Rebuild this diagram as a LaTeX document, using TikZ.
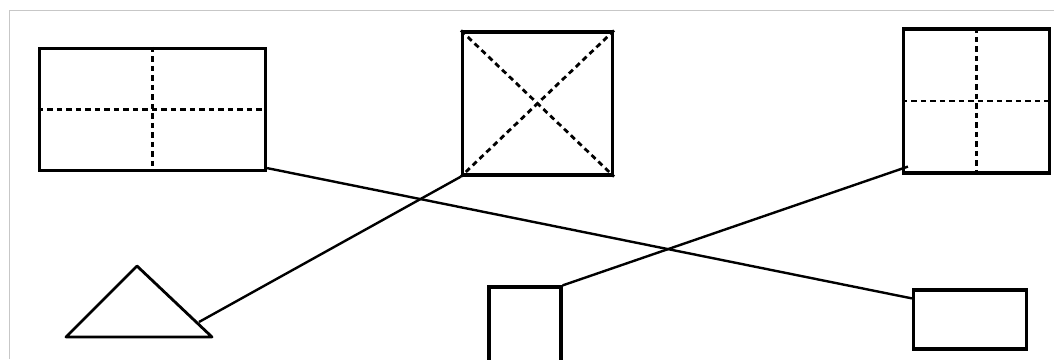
\documentclass[tikz,border=0pt]{standalone}
\usetikzlibrary{calc}
\begin{document}
\begin{tikzpicture}[x=1pt,y=-1pt,
  box/.style={draw=black, line width=3.2pt, inner sep=0pt, minimum width=#1},
  dashln/.style={draw=black, line width=2.8pt, dash pattern=on 5.5pt off 4pt},
  conn/.style={draw=black, line width=2.4pt},
  frame/.style={draw=black!22, line width=1.6pt}]
\useasboundingbox (0,0) rectangle (1054,359);
\draw[frame] (9.5,359) -- (9.5,10.5) -- (1054,10.5);
% top-left rectangle
\node[box=226pt, minimum height=122pt] (r1) at (152.5,109.5) {};
\draw[dashln] (r1.north) -- (r1.south);
\draw[dashln] (r1.west) -- (r1.east);
% top-middle square
\node[box=150pt, minimum height=143pt] (s2) at (537.5,103.5) {};
\draw[dashln] (s2.north west) -- (s2.south east);
\draw[dashln] (s2.north east) -- (s2.south west);
% top-right square
\node[box=146pt, minimum height=144pt] (s3) at (976.5,101) {};
\draw[dashln] (s3.north) -- (s3.south);
\draw[dashln] (s3.west) -- (s3.east);
% triangle
\coordinate (tA) at (137,266);
\coordinate (tL) at (66,337);
\coordinate (tR) at (212,337);
\draw[line width=2.8pt, line join=round] (tL) -- (tA) -- (tR) -- cycle;
\coordinate (tC) at (199,322);
% bottom-middle small square
\node[box=72pt, minimum height=80pt] (s4) at (525,327) {};
% bottom-right rectangle
\node[box=113pt, minimum height=59pt] (r5) at (970,319.5) {};
% connectors
\draw[conn] ($(r1.south east)+(0,-4)$) -- ($(r5.north west)+(0,10)$);
\draw[conn] (tC) -- (s2.south west);
\draw[conn] (s4.north east) -- ($(s3.south west)+(6,-8)$);
\end{tikzpicture}
\end{document}
